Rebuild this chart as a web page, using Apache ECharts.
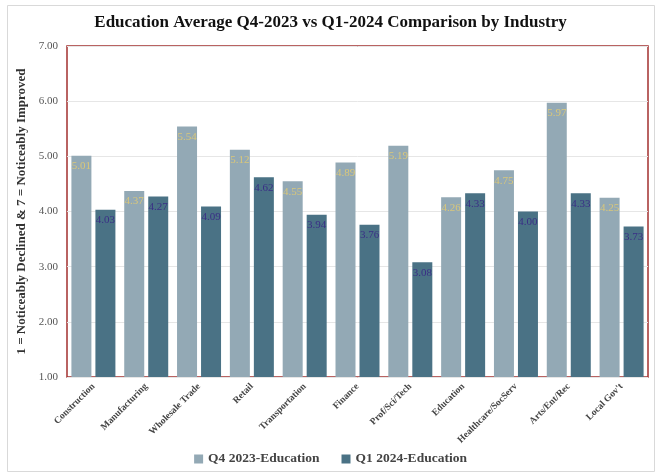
<!DOCTYPE html>
<html>
<head>
<meta charset="utf-8">
<script src="https://cdn.jsdelivr.net/npm/echarts@6/dist/echarts.min.js"></script>
<style>
html,body{margin:0;padding:0;background:#fff;}
#chart{width:661px;height:475px;}
</style>
</head>
<body>
<div id="chart"></div>
<script>
var industries = ["Construction","Manufacturing","Wholesale Trade","Retail","Transportation","Finance","Prof/Sci/Tech","Education","Healthcare/SocServ","Arts/Ent/Rec","Local Gov't"];
var q4_2023 = [5.01,4.37,5.54,5.12,4.55,4.89,5.19,4.26,4.75,5.97,4.25];
var q1_2024 = [4.03,4.27,4.09,4.62,3.94,3.76,3.08,4.33,4.00,4.33,3.73];
var seriesNames = ["Q4 2023-Education","Q1 2024-Education"];

var font = '"Liberation Serif", "DejaVu Serif", serif';
var chart = echarts.init(document.getElementById("chart"));

var option = {
	backgroundColor:'#fff',
	animation:false,
	graphic:[{
		type:'rect',
		shape:{x:7.5,y:5.5,width:647,height:466},
		style:{fill:'none',stroke:'#d9d9d9',lineWidth:1}
	}],
	title:{
		text:"Education Average Q4-2023 vs Q1-2024 Comparison by Industry",
		left:'center',
		top:9,
		textStyle:{fontFamily:font,fontSize:17,fontWeight:'bold',color:'#111'}
	},
	legend:{
		bottom:4,
		left:'center',
		itemWidth:9,
		itemHeight:9,
		itemGap:22,
		icon:'rect',
		textStyle:{fontFamily:font,fontSize:13.5,fontWeight:'bold',color:'#444'},
		data:seriesNames
	},
	grid:{
		left:67,
		right:13,
		top:46,
		bottom:98,
		show:true,
		borderColor:'#a3302f',
		borderWidth:1.5
	},
	xAxis:{
		type:'category',
		data:industries,
		axisLine:{show:false},
		axisTick:{show:false},
		axisLabel:{
			rotate:45,
			interval:0,
			margin:8,
			fontFamily:font,
			fontSize:9.5,
			fontWeight:'bold',
			color:'#444'
		}
	},
	yAxis:{
		type:'value',
		min:1,
		max:7,
		interval:1,
		name:"1 = Noticeably Declined & 7 = Noticeably Improved",
		nameLocation:'middle',
		nameGap:38,
		nameTextStyle:{fontFamily:font,fontSize:13,fontWeight:'bold',color:'#333'},
		axisLine:{show:false},
		axisTick:{show:false},
		axisLabel:{
			margin:9,
			fontFamily:font,
			fontSize:11,
			color:'#555',
			formatter:function(v){return v.toFixed(2);}
		},
		splitLine:{lineStyle:{color:'#e6e6e6',width:1}}
	},
	series:[{
		name:seriesNames[0],
		type:'bar',
		data:q4_2023,
		barWidth:20,
		barGap:'20%',
		itemStyle:{color:'#93a9b5'},
		label:{
			show:true,
			position:'insideTop',
			distance:5,
			fontFamily:font,
			fontSize:11,
			color:'#d9c77a',
			formatter:function(p){return p.value.toFixed(2);}
		}
	},{
		name:seriesNames[1],
		type:'bar',
		data:q1_2024,
		barWidth:20,
		itemStyle:{color:'#4a7285'},
		label:{
			show:true,
			position:'insideTop',
			distance:5,
			fontFamily:font,
			fontSize:11,
			color:'#3a2f86',
			formatter:function(p){return p.value.toFixed(2);}
		}
	}]
};
chart.setOption(option);
</script>
</body>
</html>
